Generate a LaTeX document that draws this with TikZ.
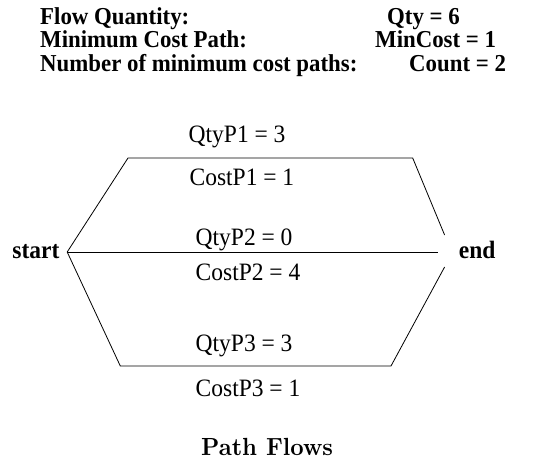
\documentclass[tikz,border=0pt]{standalone}
\usepackage{fontspec}
\newfontfamily\tnr[FakeStretch=0.94]{Liberation Serif}
\newfontfamily\lmbf[FakeStretch=0.94]{lmroman10-bold.otf}
\begin{document}
\begin{tikzpicture}[x=1pt,y=-1pt,
  hdr/.style={anchor=base west,inner sep=0pt,font=\tnr\bfseries\fontsize{24.3}{28}\selectfont},
  lbl/.style={anchor=base west,inner sep=0pt,font=\tnr\fontsize{25}{30}\selectfont},
  term/.style={anchor=base west,inner sep=0pt,font=\tnr\bfseries\fontsize{25}{30}\selectfont},
  edge/.style={draw=black,line width=0.8pt}]
\useasboundingbox (0,0) rectangle (554,460);
% header
\node[hdr] (h1a) at (40,24.5) {Flow Quantity:};
\node[hdr] (h1b) at (387,24.5) {Qty = 6};
\node[hdr] (h2a) at (40,48) {Minimum Cost Path:};
\node[hdr] (h2b) at (375,48) {MinCost = 1};
\node[hdr] (h3a) at (40,71.5) {Number of minimum cost paths:};
\node[hdr] (h3b) at (409,71.5) {Count = 2};
% terminals
\node[term] (start) at (12.2,258) {start};
\node[term] (end) at (458.7,258) {end};
% geometry
\coordinate (sv) at (67.2,252);
\coordinate (tl) at (128,158);
\coordinate (tr) at (412.7,158);
\coordinate (e1) at (444.6,235);
\coordinate (e2) at (438,252);
\coordinate (e3) at (444.6,267);
\coordinate (br) at (391,366);
\coordinate (bl) at (120.3,366);
\draw[edge] (sv) -- (tl) -- (tr) -- (e1);
\draw[edge] (sv) -- (e2);
\draw[edge] (sv) -- (bl) -- (br) -- (e3);
% labels
\node[lbl] (q1) at (188.5,142.5) {QtyP1 = 3};
\node[lbl] (c1) at (189.4,185) {CostP1 = 1};
\node[lbl] (q2) at (195.5,245) {QtyP2 = 0};
\node[lbl] (c2) at (195.5,280) {CostP2 = 4};
\node[lbl] (q3) at (195.5,351.5) {QtyP3 = 3};
\node[lbl] (c3) at (195.5,396.5) {CostP3 = 1};
\node[anchor=base west,inner sep=0pt,font=\lmbf\fontsize{24.8}{28}\selectfont] (title) at (201,455) {Path Flows};
\end{tikzpicture}
\end{document}
